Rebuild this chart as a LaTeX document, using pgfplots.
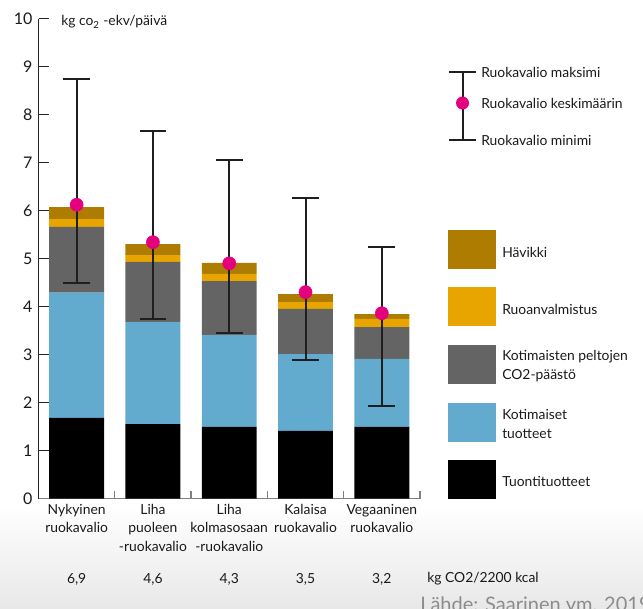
\documentclass[border=0pt]{standalone}
\usepackage{pgfplots}
\pgfplotsset{compat=1.18}
\usepackage{fontspec}
\setmainfont{Lato}
\definecolor{brn}{HTML}{AD7C00}
\definecolor{orn}{HTML}{E8A500}
\definecolor{gry}{HTML}{646464}
\definecolor{blu}{HTML}{62ABCF}
\definecolor{mag}{HTML}{E5007D}
\definecolor{txt}{HTML}{1A1A1A}
\newcommand{\tf}{\fontsize{10.4}{12.5}\selectfont}
\begin{document}
\begin{tikzpicture}[x=0.75pt,y=0.75pt]
\path[use as bounding box] (0,0) rectangle (643,-608);
\clip (0,0) rectangle (643,-608);
\shade[top color=white,bottom color=black!9] (0,-505) rectangle (643,-608);
\begin{axis}[
  at={(38.5pt*0.75,-498.5pt*0.75)}, anchor=south west, scale only axis,
  width=286.1pt, height=360pt,
  xmin=-0.5, xmax=4.5, ymin=0, ymax=10,
  axis lines*=left,
  x axis line style={black!50, line width=1.3pt},
  y axis line style={black!85, line width=0.9pt},
  ytick={0,1,...,10},
  tick align=inside,
  major tick length=7.5pt,
  minor tick length=6pt,
  y tick style={black!85, line width=0.9pt},
  yticklabel style={font=\fontsize{12}{14}\selectfont, text=txt, xshift=-1pt},
  /pgf/number format/assume math mode=true,
  xtick={0,1,2,3,4},
  major x tick style={draw=none},
  minor xtick={0.5,1.5,2.5,3.5,4.5},
  minor x tick style={black!50, line width=1pt},
  xticklabels={Nykyinen\\ruokavalio, Liha\\puoleen\\-ruokavalio, Liha\\kolmasosaan\\-ruokavalio, Kalaisa\\ruokavalio, Vegaaninen\\ruokavalio},
  xticklabel style={align=center, font=\fontsize{10.4}{13.6}\selectfont, text=txt, anchor=north, yshift=-1pt},
  ybar stacked, bar width=0.72,
  clip=false,
]
\addplot[fill=black, draw=none] coordinates {(0,1.68) (1,1.55) (2,1.49) (3,1.41) (4,1.49)};
\addplot[fill=blu, draw=none] coordinates {(0,2.61) (1,2.13) (2,1.92) (3,1.60) (4,1.42)};
\addplot[fill=gry, draw=none] coordinates {(0,1.37) (1,1.25) (2,1.12) (3,0.94) (4,0.66)};
\addplot[fill=orn, draw=none] coordinates {(0,0.16) (1,0.14) (2,0.15) (3,0.14) (4,0.17)};
\addplot[fill=brn, draw=none] coordinates {(0,0.25) (1,0.23) (2,0.23) (3,0.17) (4,0.10)};
\node[font=\tf, text=txt] at (axis cs:0,-1.69) {6,9};
\node[font=\tf, text=txt] at (axis cs:1,-1.69) {4,6};
\node[font=\tf, text=txt] at (axis cs:2,-1.69) {4,3};
\node[font=\tf, text=txt] at (axis cs:3,-1.69) {3,5};
\node[font=\tf, text=txt] at (axis cs:4,-1.69) {3,2};
\end{axis}
\begin{axis}[
  at={(38.5pt*0.75,-498.5pt*0.75)}, anchor=south west, scale only axis,
  width=286.1pt, height=360pt,
  xmin=-0.5, xmax=4.5, ymin=0, ymax=10,
  hide axis, clip=false,
]
\addplot[only marks, mark=*, mark size=4.9pt, mark options={fill=mag, draw=mag},
  error bars/.cd, y dir=both, y explicit,
  error bar style={line width=1.5pt, black!88},
  error mark options={rotate=90, line width=1.5pt, mark size=10pt, black!88}]
 coordinates {
 (0,6.12) += (0,2.63) -= (0,1.62)
 (1,5.34) += (0,2.31) -= (0,1.59)
 (2,4.90) += (0,2.15) -= (0,1.45)
 (3,4.30) += (0,1.97) -= (0,1.41)
 (4,3.86) += (0,1.38) -= (0,1.93)
 };
\end{axis}
% y unit label
\node[anchor=west, font=\tf, text=txt, inner sep=0pt] at (61,-22) {kg co\textsubscript{2} -ekv/päivä};
% error legend
\draw[line width=1.5pt, black!88] (462.5,-72) -- (462.5,-140);
\draw[line width=1.5pt, black!88] (449,-72) -- (476,-72);
\draw[line width=1.5pt, black!88] (449,-140) -- (476,-140);
\fill[mag] (462.5,-103) circle (6.5);
\begin{scope}[every node/.style={anchor=west, font=\tf, text=txt, inner sep=0pt}]
\node at (481,-72) {Ruokavalio maksimi};
\node at (481,-103) {Ruokavalio keskimäärin};
\node at (481,-140) {Ruokavalio minimi};
\end{scope}
% colour legend
\fill[brn] (448,-230) rectangle (496,-269);
\fill[orn] (448,-287) rectangle (496,-326);
\fill[gry] (448,-345) rectangle (496,-384);
\fill[blu] (448,-403) rectangle (496,-442);
\fill[black] (448,-460) rectangle (496,-499);
\begin{scope}[every node/.style={anchor=west, align=left, font=\fontsize{10.4}{14.2}\selectfont, text=txt, inner sep=0pt}]
\node at (502,-252) {Hävikki};
\node at (502,-309) {Ruoanvalmistus};
\node at (502,-366) {Kotimaisten peltojen\\CO2-päästö};
\node at (502,-423.5) {Kotimaiset\\tuotteet};
\node at (502,-481.5) {Tuontituotteet};
\end{scope}
\node[anchor=west, font=\tf, text=txt, inner sep=0pt] at (427,-579) {kg CO2/2200 kcal};
\node[anchor=base west, font=\fontsize{15}{18}\selectfont, text=black!45, inner sep=0pt] at (420,-611.5) {Lähde: Saarinen ym. 2019};
\end{tikzpicture}
\end{document}
